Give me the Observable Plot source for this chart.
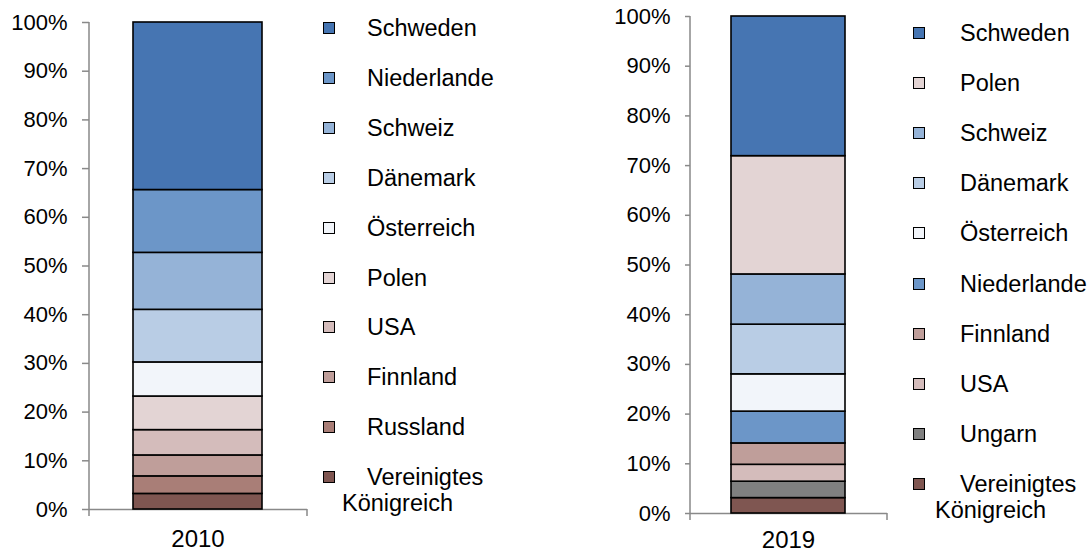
<!DOCTYPE html>
<html><head><meta charset="utf-8">
<script src="https://cdn.jsdelivr.net/npm/d3@7"></script>
<script src="https://cdn.jsdelivr.net/npm/@observablehq/plot@0.6"></script>
<style>
body{margin:0;background:#fff;font-family:"Liberation Sans",Arial,sans-serif;}
#wrap{position:relative;width:1089px;height:554px;overflow:hidden;}
.panel{position:absolute;top:0;}
.legend{position:absolute;top:0;font-size:23.5px;color:#000;}
.item{position:absolute;left:0;width:165px;line-height:26px;white-space:normal;}
.sw{position:absolute;left:0;top:7px;width:10px;height:10px;border:1px solid #000;}
</style></head><body><div id="wrap"></div>
<script>
// ---- data (stack order: bottom to top) ----
const countries2010 = ["Vereinigtes Königreich","Russland","Finnland","USA","Polen","Österreich","Dänemark","Schweiz","Niederlande","Schweden"];
const values2010 = [3.2,3.6,4.3,5.2,6.9,7.0,10.8,11.7,12.9,34.4];
const countries2019 = ["Vereinigtes Königreich","Ungarn","USA","Finnland","Niederlande","Österreich","Dänemark","Schweiz","Polen","Schweden"];
const values2019 = [3.1,3.3,3.4,4.3,6.4,7.5,10.0,10.1,23.8,28.1];
const yTicks = [0,10,20,30,40,50,60,70,80,90,100];
const colorDomain = ["Schweden","Niederlande","Schweiz","Dänemark","Österreich","Polen","USA","Finnland","Russland","Ungarn","Vereinigtes Königreich"];
const colorRange  = ["#4675B2","#6C96C8","#95B3D7","#B9CDE5","#F2F5FA","#E3D4D4","#D4BCBB","#BF9E9A","#A97E77","#808080","#7F5651"];

const wrap = document.getElementById("wrap");
const AXIS = "#898989";

function panel(year, countries, values, o) {
  const data = countries.map((c, i) => ({year, country: c, value: values[i]}));
  const plot = Plot.plot({
    width: o.width, height: 554,
    marginLeft: o.ml, marginRight: 3, marginTop: o.mt, marginBottom: o.mb,
    style: {fontFamily: "'Liberation Sans', Arial, sans-serif", fontSize: "22px", color: "#000", background: "transparent", overflow: "visible"},
    x: {domain: [year], padding: o.pad, label: null},
    y: {domain: [0, 100], label: null},
    color: {domain: colorDomain, range: colorRange},
    marks: [
      Plot.axisY(yTicks, {tickSize: o.ts, tickPadding: 15, stroke: AXIS, strokeWidth: 1.5, fill: "#000", tickFormat: d => d + "%", fontSize: 22, label: null}),
      Plot.axisX({tickSize: 0, tickPadding: o.xpad, fill: "#000", fontSize: 24, label: null}),
      Plot.ruleY([0], {stroke: AXIS, strokeWidth: 1.5}),
      Plot.barY(data, {x: "year", y: "value", fill: "country", stroke: "#000", strokeWidth: 1.6, order: null})
    ]
  });
  const sx = plot.scale("x"), sy = plot.scale("y");
  const [x0, x1] = sx.range;
  const yb = sy.apply(0), yt = sy.apply(100);
  const g = d3.select(plot).insert("g", ":first-child").attr("stroke", AXIS).attr("stroke-width", 1.5);
  g.append("line").attr("x1", x0).attr("x2", x0).attr("y1", yt).attr("y2", yb + 7);
  g.append("line").attr("x1", x1).attr("x2", x1).attr("y1", yb).attr("y2", yb + 7);
  plot.classList.add("panel");
  plot.style.left = o.left + "px";
  wrap.appendChild(plot);
}

function legend(items, o) {
  const div = document.createElement("div");
  div.className = "legend";
  div.style.left = o.left + "px";
  items.forEach((c, i) => {
    const it = document.createElement("div");
    it.className = "item";
    it.style.top = (o.y0 + i * o.step - 13) + "px";
    it.style.paddingLeft = o.wrapIndent + "px";
    it.style.textIndent = (o.textX - o.wrapIndent) + "px";
    const sw = document.createElement("span");
    sw.className = "sw";
    sw.style.background = colorRange[colorDomain.indexOf(c)];
    it.appendChild(sw);
    it.appendChild(document.createTextNode(c));
    div.appendChild(it);
  });
  wrap.appendChild(div);
}

panel("2010", countries2010, values2010, {left: 0, width: 310, ml: 89, mt: 22, mb: 45, pad: 0.253, ts: 7, xpad: 20});
panel("2019", countries2019, values2019, {left: 600, width: 290, ml: 90, mt: 16, mb: 41, pad: 0.263, ts: 5, xpad: 17});
legend(countries2010.slice().reverse(), {left: 323, y0: 28, step: 49.9, textX: 44, wrapIndent: 19});
legend(countries2019.slice().reverse(), {left: 913, y0: 33, step: 50.1, textX: 47, wrapIndent: 22});
</script></body></html>
